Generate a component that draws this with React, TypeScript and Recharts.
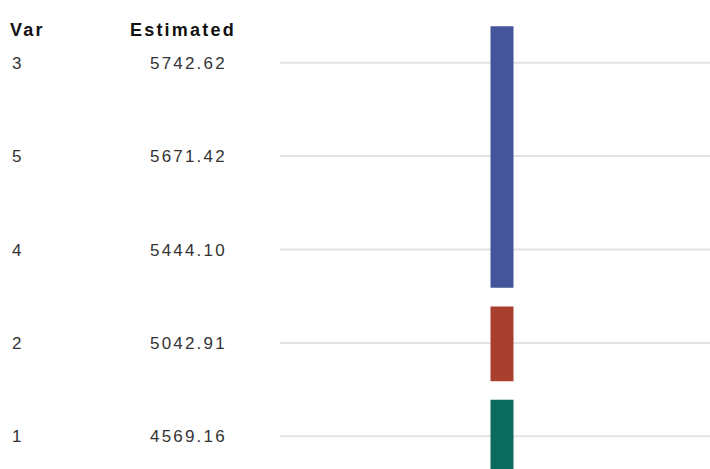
import { ComposedChart, Bar, XAxis, YAxis, CartesianGrid, Cell } from 'recharts';

const varLabels = ['3', '5', '4', '2', '1'];
const estimates = ['5742.62', '5671.42', '5444.10', '5042.91', '4569.16'];
const rows = [0, 1, 2, 3, 4];

// groups of rows sharing the same letter, first and last row index
const groupFirst = [0, 3, 4];
const groupLast = [2, 3, 4];
const groupColors = ['#44559b', '#a9402f', '#0b6b5d'];

const PAD = 0.39;
const groupData = groupFirst.map((first, i) => ({
    x: 221.5,
    span: [first - PAD, groupLast[i] + PAD + 0.02],
}));

const FONT = 'Liberation Sans, Arial, Helvetica, sans-serif';

const RowTick = (props: any) => {
    const { y, payload } = props;
    const i = payload.value;
    return (
        <g>
            <text x={12} y={y} dy="0.36em" fontSize={17} fill="#333" fontFamily={FONT}>
                {varLabels[i]}
            </text>
            <text x={150} y={y} dy="0.36em" fontSize={17} fill="#333" letterSpacing={2.2} fontFamily={FONT}>
                {estimates[i]}
            </text>
        </g>
    );
};

const header = {
    position: 'absolute' as const,
    top: 20,
    lineHeight: '20px',
    fontFamily: FONT,
    fontWeight: 700,
    fontSize: 18,
    letterSpacing: 2.2,
    color: '#111',
};

const App = () => {
    return (
        <div style={{ position: 'absolute', left: 0, top: 0, width: 710, height: 469, overflow: 'hidden', background: '#fff' }}>
            <div style={{ ...header, left: 10 }}>Var</div>
            <div style={{ ...header, left: 130 }}>Estimated</div>
            <ComposedChart
                width={710}
                height={500}
                data={groupData}
                margin={{ top: 16, right: 0, bottom: 17, left: 0 }}
            >
                <CartesianGrid vertical={false} syncWithTicks stroke="#e2e2e2" strokeWidth={2} />
                <XAxis type="number" dataKey="x" domain={[0, 430]} hide />
                <YAxis
                    type="number"
                    domain={[-0.5, 4.5]}
                    ticks={rows}
                    interval={0}
                    reversed
                    allowDataOverflow
                    width={280}
                    axisLine={false}
                    tickLine={false}
                    tick={<RowTick />}
                />
                <Bar dataKey="span" barSize={23} isAnimationActive={false}>
                    {groupData.map((_, i) => (
                        <Cell key={i} fill={groupColors[i]} />
                    ))}
                </Bar>
            </ComposedChart>
        </div>
    );
};

export default App;
